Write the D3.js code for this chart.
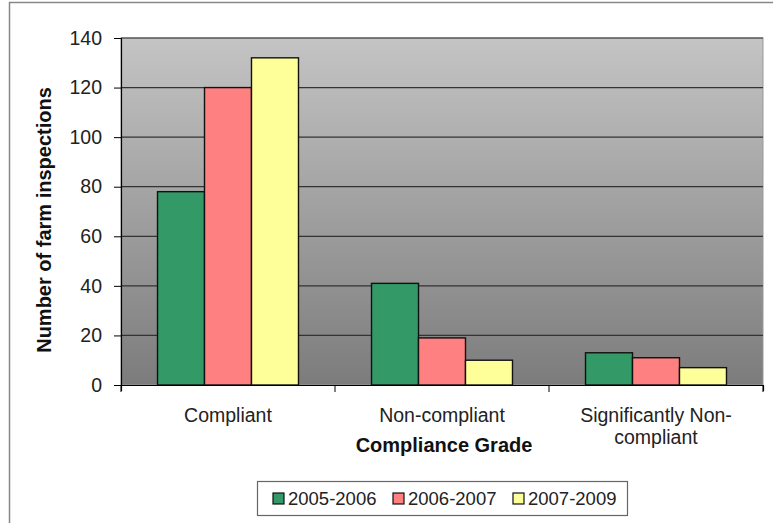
<!DOCTYPE html>
<html>
<head>
<meta charset="utf-8">
<script src="https://cdn.jsdelivr.net/npm/d3@7"></script>
<style>
  body { margin: 0; background: #fff; }
  svg { display: block; font-family: "Liberation Sans", Arial, sans-serif; }
</style>
</head>
<body>
<svg id="chart" width="773" height="523"></svg>
<script>
// Farm inspections by compliance grade and period
const categories = ["Compliant", "Non-compliant", "Significantly Non-compliant"];
const categoryLines = [["Compliant"], ["Non-compliant"], ["Significantly Non-", "compliant"]];
const seriesNames = ["2005-2006", "2006-2007", "2007-2009"];
const series2005 = [78, 41, 13];
const series2006 = [120, 19, 11];
const series2007 = [132, 10, 7];
const yTicks = [0, 20, 40, 60, 80, 100, 120, 140];
const colors = ["#339966", "#ff8080", "#ffff99"];

const seriesValues = [series2005, series2006, series2007];
const svg = d3.select("#chart");
const FONT = 19.5;

// outer chart frame
svg.append("rect").attr("x", 9.5).attr("y", 2.5).attr("width", 780).attr("height", 540)
  .attr("fill", "#fff").attr("stroke", "#888").attr("stroke-width", 1.5);

const plot = { left: 121, right: 763, top: 38, bottom: 385 };

const defs = svg.append("defs");
const grad = defs.append("linearGradient").attr("id", "bg").attr("x1", 0).attr("y1", 0).attr("x2", 0).attr("y2", 1);
grad.append("stop").attr("offset", "0%").attr("stop-color", "#c4c4c4");
grad.append("stop").attr("offset", "100%").attr("stop-color", "#7c7c7c");

svg.append("rect").attr("x", plot.left).attr("y", plot.top)
  .attr("width", plot.right - plot.left).attr("height", plot.bottom - plot.top)
  .attr("fill", "url(#bg)").attr("stroke", "#999").attr("stroke-width", 1);

const x0 = d3.scaleBand().domain(categories).range([plot.left, plot.right]).paddingInner(0).paddingOuter(0);
const x1 = d3.scaleBand().domain(seriesNames).range([0, x0.bandwidth()]).paddingInner(0).paddingOuter(0.777);
const y = d3.scaleLinear().domain([0, 140]).range([plot.bottom, plot.top]);

// gridlines
svg.append("g").selectAll("line").data(yTicks.filter(t => t > 0)).join("line")
  .attr("x1", plot.left).attr("x2", plot.right)
  .attr("y1", d => y(d)).attr("y2", d => y(d))
  .attr("stroke", "#333").attr("stroke-width", 1.2);

// bars
const rows = categories.map((c, i) => ({ cat: c, vals: seriesNames.map((s, j) => ({ s, v: seriesValues[j][i], j })) }));
svg.append("g").selectAll("g").data(rows).join("g")
  .attr("transform", d => `translate(${x0(d.cat)},0)`)
  .selectAll("rect").data(d => d.vals).join("rect")
  .attr("x", d => x1(d.s)).attr("width", x1.bandwidth())
  .attr("y", d => y(d.v)).attr("height", d => y(0) - y(d.v))
  .attr("fill", d => colors[d.j]).attr("stroke", "#111").attr("stroke-width", 1.4);

// y axis
const yAxis = d3.axisLeft(y).tickValues(yTicks).tickSize(7).tickPadding(12);
const yg = svg.append("g").attr("transform", `translate(${plot.left},0)`).call(yAxis);
yg.select(".domain").attr("stroke", "#000").attr("stroke-width", 1.2);
yg.selectAll(".tick line").attr("stroke", "#000");
yg.selectAll("text").attr("font-size", FONT).attr("fill", "#222").attr("font-family", "Liberation Sans, Arial, sans-serif");

// x axis
const xAxis = d3.axisBottom(x0).tickSize(6).tickFormat("");
const xg = svg.append("g").attr("transform", `translate(0,${plot.bottom})`).call(xAxis);
xg.select(".domain").attr("stroke", "#000").attr("stroke-width", 1.2);
xg.selectAll(".tick").remove();
xg.selectAll("line.bound").data([plot.left, ...categories.map(c => x0(c) + x0.bandwidth())]).join("line")
  .attr("x1", d => d).attr("x2", d => d).attr("y1", 0).attr("y2", 7).attr("stroke", "#000");

// category labels
categories.forEach((c, i) => {
  const cx = x0(c) + x0.bandwidth() / 2;
  const t = svg.append("text").attr("x", cx).attr("y", 422)
    .attr("text-anchor", "middle").attr("font-size", FONT).attr("fill", "#222");
  categoryLines[i].forEach((line, k) => {
    t.append("tspan").attr("x", cx).attr("dy", k === 0 ? 0 : 22).text(line);
  });
});

// axis titles
svg.append("text").attr("x", (plot.left + plot.right) / 2 + 2).attr("y", 452)
  .attr("text-anchor", "middle").attr("font-size", 20).attr("font-weight", "bold").attr("fill", "#111").text("Compliance Grade");
svg.append("text").attr("transform", `translate(51,220) rotate(-90)`)
  .attr("text-anchor", "middle").attr("font-size", 20).attr("font-weight", "bold").attr("fill", "#111").text("Number of farm inspections");

// legend
const lg = svg.append("g");
lg.append("rect").attr("x", 257.5).attr("y", 481.5).attr("width", 370).attr("height", 34)
  .attr("fill", "#fff").attr("stroke", "#666").attr("stroke-width", 1.2);
const legendX = [273, 393, 513];
seriesNames.forEach((s, i) => {
  lg.append("rect").attr("x", legendX[i]).attr("y", 493).attr("width", 11).attr("height", 11)
    .attr("fill", colors[i]).attr("stroke", "#111").attr("stroke-width", 1.2);
  lg.append("text").attr("x", legendX[i] + 15).attr("y", 505).attr("font-size", 18.5).attr("fill", "#222").text(s);
});
</script>
</body>
</html>
